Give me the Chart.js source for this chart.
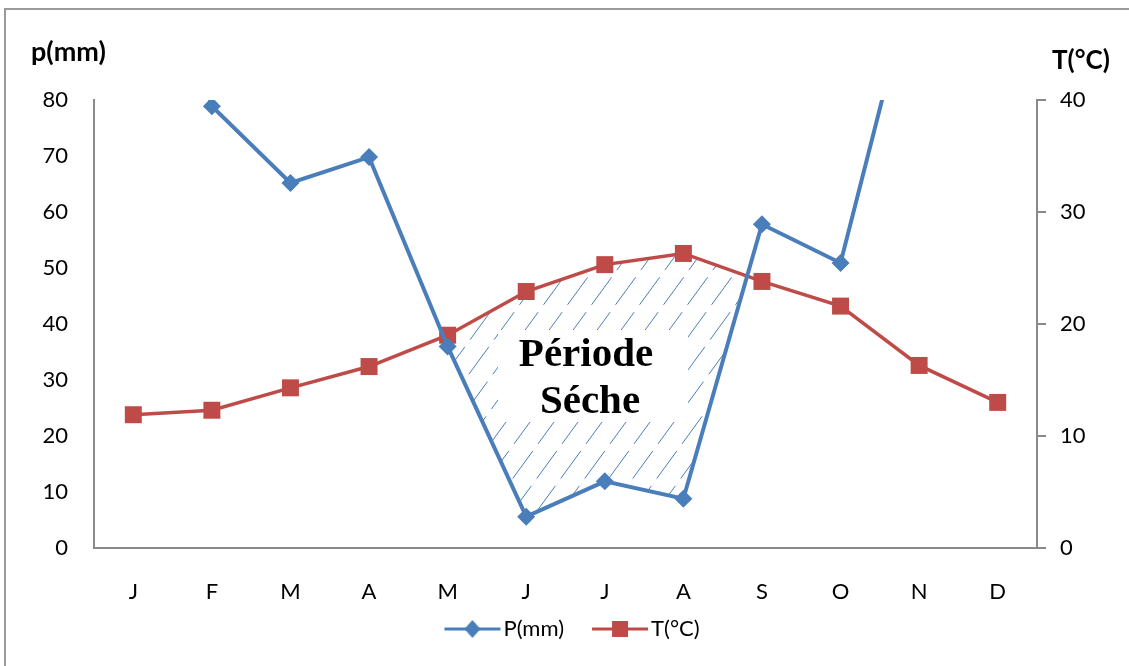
<!DOCTYPE html>
<html>
<head>
<meta charset="utf-8">
<script src="https://cdn.jsdelivr.net/npm/chart.js@4/dist/chart.umd.min.js"></script>
<style>
  html, body { margin: 0; padding: 0; background: #fff; overflow: hidden; }
  #frame { position: absolute; left: 4px; top: 8px; width: 1200px; height: 700px; border: 2px solid #9a9a9a; }
  #chart { position: absolute; left: 0; top: 0; }
</style>
</head>
<body>
<div id="frame"></div>
<canvas id="chart" width="1129" height="666"></canvas>
<script>
// ---- data ----
const months = ['J', 'F', 'M', 'A', 'M', 'J', 'J', 'A', 'S', 'O', 'N', 'D'];
const precip = [130, 78.9, 65.2, 69.8, 36, 5.6, 11.9, 8.8, 57.8, 50.9, 106, 95]; // J, N, D run off the top
const temp = [11.9, 12.3, 14.3, 16.2, 19.0, 22.9, 25.3, 26.3, 23.8, 21.6, 16.3, 13.0];
const pTicks = [0, 10, 20, 30, 40, 50, 60, 70, 80];
const tTicks = [0, 10, 20, 30, 40];

const BLUE = '#4A7EBB';
const RED = '#BE4B48';
const FONT = 'Lato';

// legend swatch: line with marker in the middle
function legendIcon(color, marker) {
  const c = document.createElement('canvas');
  c.width = 76; c.height = 22;
  const g = c.getContext('2d');
  g.strokeStyle = color; g.fillStyle = color; g.lineWidth = 3;
  g.beginPath(); g.moveTo(18, 11); g.lineTo(74, 11); g.stroke();
  const cx = 46;
  g.beginPath();
  if (marker === 'diamond') {
    g.moveTo(cx, 2); g.lineTo(cx + 8, 11); g.lineTo(cx, 20); g.lineTo(cx - 8, 11);
  } else {
    g.rect(cx - 8, 3, 16, 16);
  }
  g.closePath(); g.fill();
  return c;
}

// hatched "dry period" where the rain curve drops under the temperature curve
const dryPeriod = {
  id: 'dryPeriod',
  afterLayout(chart) {
    // pull the legend a bit closer to the axis labels
    const l = chart.legend;
    if (l) { l.top -= 16; l.bottom -= 16; }
  },
  beforeDatasetsDraw(chart) {
    const p = chart.getDatasetMeta(0).data, t = chart.getDatasetMeta(1).data;
    const { ctx, chartArea: a } = chart;
    const polys = [];
    let up = [], low = [];
    for (let i = 0; i < p.length; i++) {
      const d = p[i].y - t[i].y;
      if (d > 0) { up.push([t[i].x, t[i].y]); low.push([p[i].x, p[i].y]); }
      if (i + 1 < p.length) {
        const dn = p[i + 1].y - t[i + 1].y;
        if ((d > 0) !== (dn > 0)) {
          const f = d / (d - dn);
          const c = [t[i].x + f * (t[i + 1].x - t[i].x), t[i].y + f * (t[i + 1].y - t[i].y)];
          up.push(c); low.push(c);
          if (d > 0) { polys.push(up.concat(low.reverse())); up = []; low = []; }
        }
      }
    }
    ctx.save();
    ctx.beginPath();
    for (const poly of polys) {
      poly.forEach(([x, y], k) => k ? ctx.lineTo(x, y) : ctx.moveTo(x, y));
      ctx.closePath();
    }
    ctx.clip();
    ctx.strokeStyle = BLUE;
    ctx.lineWidth = 1;
    ctx.setLineDash([34, 9]);
    const h = a.bottom - a.top;
    for (let x = a.left - h; x < a.right; x += 24) {
      ctx.beginPath();
      ctx.moveTo(x, a.bottom);
      ctx.lineTo(x + 0.73 * h, a.top);
      ctx.stroke();
    }
    ctx.restore();

    // label box
    ctx.save();
    ctx.fillStyle = '#fff';
    ctx.fillRect(498, 330, 190, 92);
    ctx.fillStyle = '#000';
    ctx.font = 'bold 41px "Liberation Serif"';
    ctx.textAlign = 'center';
    ctx.textBaseline = 'alphabetic';
    ctx.fillText('Période', 586, 366);
    ctx.fillText('Séche', 590, 413);
    ctx.restore();
  },
  afterDraw(chart) {
    const { ctx } = chart;
    ctx.save();
    ctx.fillStyle = '#000';
    ctx.font = `bold 27px ${FONT}`;
    ctx.textBaseline = 'alphabetic';
    ctx.textAlign = 'left';
    ctx.fillText('p(mm)', 31, 61);
    ctx.font = `bold 26px ${FONT}`;
    ctx.fillText('T(°C)', 1052, 69);
    ctx.restore();
  }
};

new Chart(document.getElementById('chart'), {
  type: 'line',
  data: {
    labels: months,
    datasets: [
      {
        label: 'P(mm)', data: precip, yAxisID: 'yP',
        borderColor: BLUE, backgroundColor: BLUE, borderWidth: 4,
        pointStyle: 'rectRot', pointRadius: 9, pointBorderWidth: 0,
        tension: 0, icon: legendIcon(BLUE, 'diamond')
      },
      {
        label: 'T(°C)', data: temp, yAxisID: 'yT',
        borderColor: RED, backgroundColor: RED, borderWidth: 3.5,
        pointStyle: 'rect', pointRadius: 12, pointBorderWidth: 0,
        tension: 0, icon: legendIcon(RED, 'square')
      }
    ]
  },
  options: {
    responsive: false,
    animation: false,
    layout: { padding: { left: 7, right: 0, top: 100, bottom: 0 } },
    plugins: {
      tooltip: { enabled: false },
      legend: {
        position: 'bottom',
        labels: {
          usePointStyle: true,
          pointStyleWidth: 56,
          boxHeight: 22,
          padding: 20,
          color: '#000',
          font: { family: FONT, size: 22 },
          generateLabels: chart => chart.data.datasets.map((ds, i) => ({
            text: ds.label, pointStyle: ds.icon, datasetIndex: i,
            fillStyle: ds.borderColor, strokeStyle: ds.borderColor, lineWidth: 0, hidden: false
          }))
        }
      }
    },
    scales: {
      x: {
        offset: true,
        grid: { display: false, drawTicks: false },
        border: { display: true, color: '#8a8a8a', width: 2 },
        ticks: { padding: 31, color: '#000', font: { family: FONT, size: 22 } },
        afterFit: s => { s.height = 66; }
      },
      yP: {
        position: 'left', min: 0, max: 80,
        afterBuildTicks: s => { s.ticks = pTicks.map(v => ({ value: v })); },
        grid: { display: false, drawTicks: false },
        border: { display: true, color: '#8a8a8a', width: 2 },
        ticks: { padding: 26, color: '#000', font: { family: FONT, size: 22 } },
        afterFit: s => { s.width = 87; }
      },
      yT: {
        position: 'right', min: 0, max: 40,
        afterBuildTicks: s => { s.ticks = tTicks.map(v => ({ value: v })); },
        grid: { display: true, drawOnChartArea: false, drawTicks: true, tickLength: 9, color: '#8a8a8a', lineWidth: 2 },
        border: { display: true, color: '#8a8a8a', width: 2 },
        ticks: { padding: 14, color: '#000', font: { family: FONT, size: 22 } },
        afterFit: s => { s.width = 92; }
      }
    }
  },
  plugins: [dryPeriod]
});
</script>
</body>
</html>
